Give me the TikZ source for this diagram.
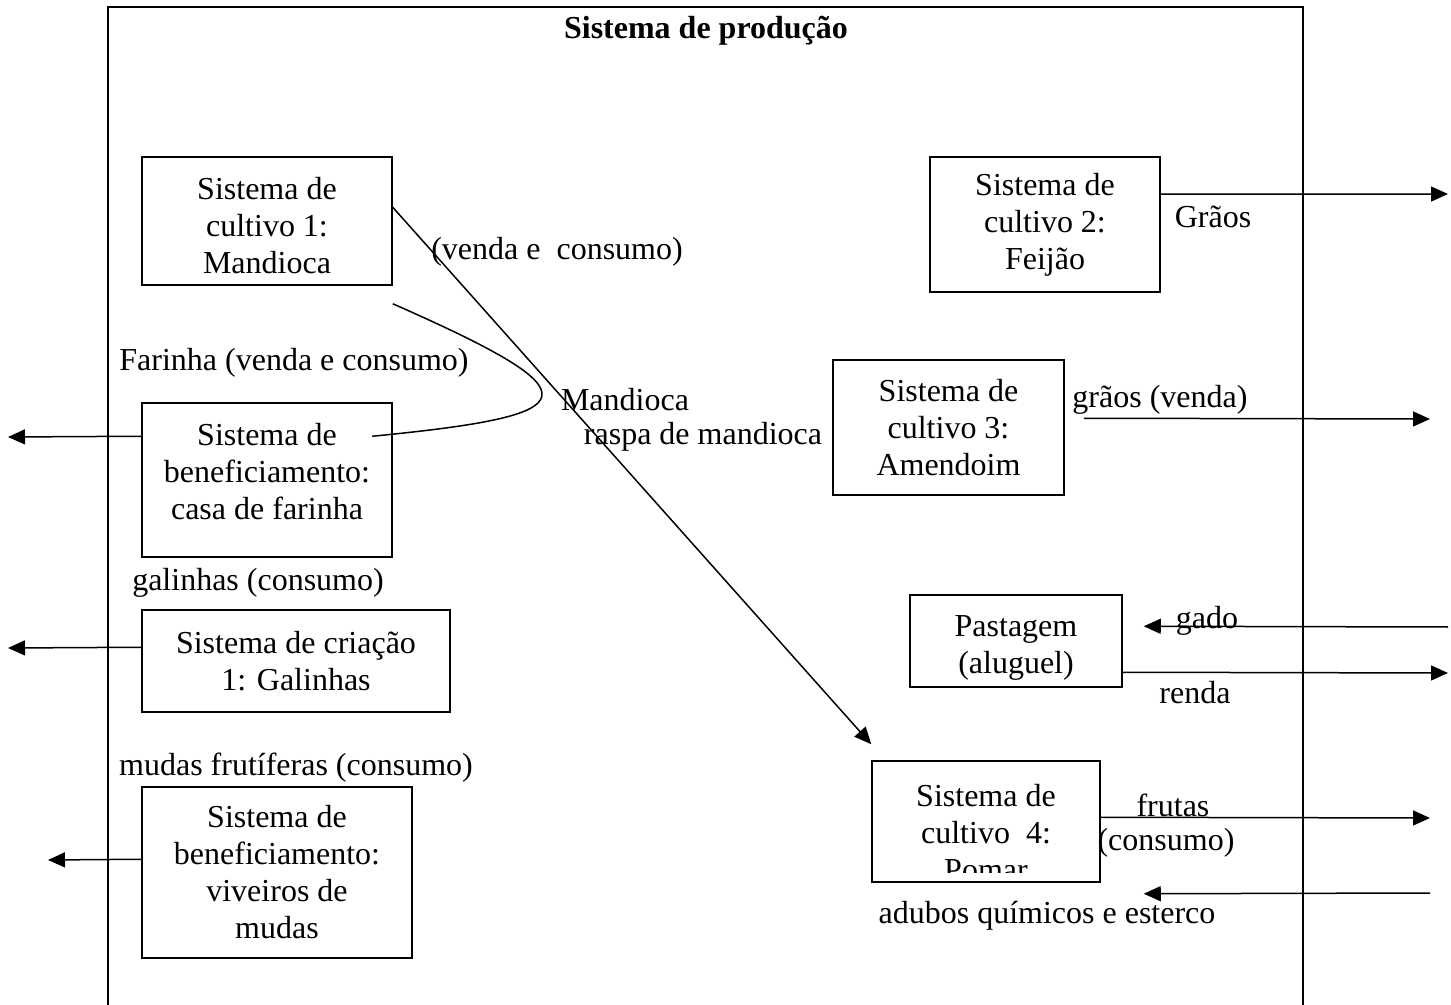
\documentclass[tikz,border=0pt]{standalone}
\usepackage{fontspec}
\setmainfont{Liberation Serif}
\usetikzlibrary{arrows.meta,calc}

\begin{document}
\begin{tikzpicture}[x=0.5pt,y=-0.5pt,
        font=\fontsize{16}{18.5}\selectfont,
        box/.style={draw, line width=0.75pt, inner sep=0pt, align=center},
        lbl/.style={inner sep=0pt},
        flow/.style={line width=0.75pt, -{Triangle[length=8.5pt,width=7.5pt]}}]
    \useasboundingbox (0,0) rectangle (1451,1005);

    % limite do sistema de producao
    \draw[line width=1pt] (108,1005) |- (1303,7) -- (1303,1005);
    \node[lbl, font=\fontsize{16}{18.5}\selectfont\bfseries] (titulo) at (706,31) {Sistema de produ\c{c}\~ao};

    % subsistemas
    \node[box, minimum width=125pt, minimum height=64pt] (mandioca) at (267,221) {\\[-3pt]Sistema de\\cultivo 1:\\Mandioca};
    \node[box, minimum width=125pt, minimum height=77pt] (farinha) at (267,480) {Sistema de\\beneficiamento:\\casa de farinha\\[-10pt]};
    \node[box, minimum width=154pt, minimum height=51pt] (galinhas) at (296,661) {Sistema de cria\c{c}\~ao\\1: Galinhas};
    \node[box, minimum width=135pt, minimum height=85.5pt] (viveiros) at (277,872.5) {Sistema de\\beneficiamento:\\viveiros de\\mudas};
    \node[box, minimum width=115pt, minimum height=67.5pt] (feijao) at (1045,224.5) {Sistema de\\cultivo 2:\\Feij\~ao};
    \node[box, minimum width=115.5pt, minimum height=67.5pt] (amendoim) at (948.5,427.5) {Sistema de\\cultivo 3:\\Amendoim};
    \node[box, minimum width=106pt, minimum height=46pt] (pastagem) at (1016,641) {\\[-1pt]Pastagem\\(aluguel)};
    \node[box, minimum width=114pt, minimum height=60.5pt,
        label={[lbl, align=center, yshift=-5.75pt]center:Sistema de\\cultivo\ \ 4:\\Pomar}] (pomar) at (986,821.5) {};
    % texto do pomar cortado pela borda
    \fill[white] ($(pomar.south west)+(1.5,-10)$) rectangle ($(pomar.south east)+(-1.5,-1.8)$);

    % pontas livres
    \coordinate (farinhaout) at (8,437);
    \coordinate (galinhasout) at (8,648);
    \coordinate (viveirosout) at (48,860);
    \coordinate (feijaoout) at (1448,194);
    \coordinate (amendoimout) at (1430,419);
    \coordinate (gadoin) at (1448,627);
    \coordinate (rendaout) at (1448,673);
    \coordinate (frutasout) at (1430,818);
    \coordinate (adubosin) at (1430,893);

    % fluxos
    \draw[flow] ($(mandioca.north east)+(0,51)$) -- ($(pomar.north west)+(0,-16)$);
    \draw[line width=0.75pt] ($(mandioca.south east)+(0,18)$) .. controls (600,395) and (590,415) .. ($(farinha.north west)+(231,34)$);
    \draw[flow] ($(farinha.north west)+(0,34)$) -- (farinhaout);
    \draw[flow] ($(galinhas.north west)+(0,38)$) -- (galinhasout);
    \draw[flow] ($(viveiros.north west)+(0,73)$) -- (viveirosout);
    \draw[flow] ($(feijao.north east)+(0,38)$) -- (feijaoout);
    \draw[flow] ($(amendoim.north east)+(19,59)$) -- (amendoimout);
    \draw[flow] (gadoin) -- ($(pastagem.north east)+(21,32)$);
    \draw[flow] ($(pastagem.north east)+(0,78)$) -- (rendaout);
    \draw[flow] ($(pomar.north east)+(0,57)$) -- (frutasout);
    \draw[flow] (adubosin) -- ($(pomar.south east)+(43,11)$);

    % rotulos
    \node[lbl] (l-venda) at (557,252) {(venda e\ \ consumo)};
    \node[lbl] (l-farinha) at (294,363) {Farinha (venda e consumo)};
    \node[lbl] (l-mandioca) at (625,400) {Mandioca};
    \node[lbl] (l-raspa) at (703,437) {raspa de mandioca};
    \node[lbl] (l-galinhas) at (258,583) {galinhas (consumo)};
    \node[lbl] (l-mudas) at (296,768) {mudas frut\'iferas (consumo)};
    \node[lbl] (l-graos) at (1213,217) {Gr\~aos};
    \node[lbl] (l-graosv) at (1160,400) {gr\~aos (venda)};
    \node[lbl] (l-gado) at (1207,621) {gado};
    \node[lbl] (l-renda) at (1195,693) {renda};
    \node[lbl] (l-frutas) at (1173,805) {frutas};
    \node[lbl] (l-consumo) at (1166,843) {(consumo)};
    \node[lbl] (l-adubos) at (1047,916) {adubos qu\'imicos e esterco};
\end{tikzpicture}
\end{document}
